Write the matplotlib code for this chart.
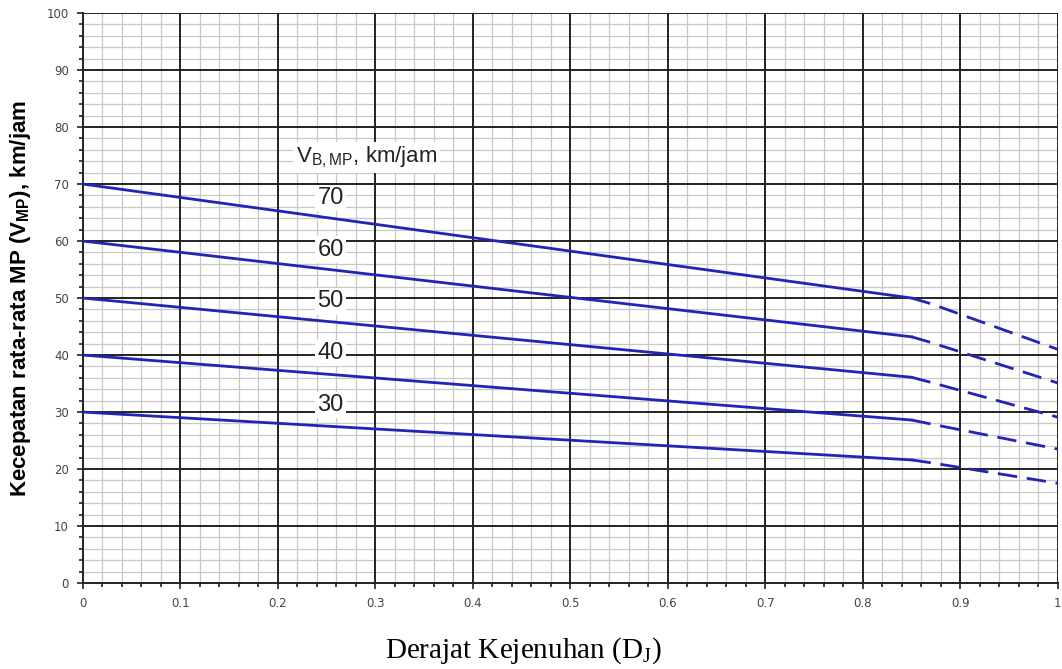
import numpy as np
from matplotlib import pyplot as plt
from matplotlib.ticker import FixedLocator

# base free-flow speeds (km/jam) and where each curve goes
speeds = [70, 60, 50, 40, 30]
x_solid = [0, 0.85]
x_dash = [0.85, 0.87, 1.0]
y_solid = [[70, 50], [60, 43.2], [50, 36.1], [40, 28.6], [30, 21.6]]
y_dash = [[50, 49.0, 41.0], [43.2, 42.2, 35.1], [36.1, 35.2, 29.1],
          [28.6, 27.9, 23.5], [21.6, 21.1, 17.5]]
label_x = 0.254
label_y = [67.5, 58.5, 49.4, 40.3, 31.3]

xticks = np.round(np.arange(0, 1.01, 0.1), 2)
xticklabels = ["0", "0.1", "0.2", "0.3", "0.4", "0.5", "0.6", "0.7", "0.8", "0.9", "1"]
yticks = np.arange(0, 101, 10)
xminor = [v for v in np.round(np.arange(0, 1.001, 0.02), 2) if round(v * 50) % 5 != 0]
yminor = [v for v in range(0, 101, 2) if v % 10 != 0]

fig = plt.figure(figsize=(10.62, 6.69), dpi=100)
ax = fig.add_axes([0.078, 0.1285, 0.918, 0.852])

# grid drawn by hand so the black lines sit on top of the grey ones
for v in xminor:
    ax.axvline(v, color="#c8c8c8", lw=0.9, zorder=0)
for v in yminor:
    ax.axhline(v, color="#c8c8c8", lw=0.9, zorder=0)
for v in xticks[1:]:
    ax.axvline(v, color="#222222", lw=1.4, zorder=1)
for v in yticks[1:]:
    ax.axhline(v, color="#222222", lw=1.4, zorder=1)

blue = "#2323b8"
for i in range(len(speeds)):
    ax.plot(x_solid, y_solid[i], color=blue, lw=2, zorder=3)
    ax.plot(x_dash, y_dash[i], color=blue, lw=2, dashes=(7, 3.5), zorder=3)
    ax.text(label_x, label_y[i], str(speeds[i]), fontsize=17, ha="center", va="center",
            family="Liberation Sans", color="#222222", zorder=4,
            bbox=dict(facecolor="white", edgecolor="none", pad=1.5))

ax.text(0.291, 74.7, r"V$_{\mathregular{B,MP}}$, km/jam", fontsize=16, ha="center", va="center",
        family="Liberation Sans", color="#222222", zorder=4,
        bbox=dict(facecolor="white", edgecolor="none", pad=2))

ax.set_xlim(0, 1)
ax.set_ylim(0, 100)
ax.set_xticks(xticks)
ax.set_xticklabels(xticklabels)
ax.set_yticks(yticks)
ax.xaxis.set_minor_locator(FixedLocator(xminor))
ax.yaxis.set_minor_locator(FixedLocator(yminor))
ax.tick_params(which="both", direction="out", color="#222222", labelsize=8.5,
               labelcolor="#444444", pad=6)
ax.tick_params(which="major", length=4, width=1.2)
ax.tick_params(which="minor", length=3, width=1.2)
for s in ax.spines.values():
    s.set_visible(False)
ax.spines["left"].set_visible(True)
ax.spines["bottom"].set_visible(True)
ax.spines["left"].set_color("#222222")
ax.spines["bottom"].set_color("#222222")
ax.spines["left"].set_linewidth(1.4)
ax.spines["bottom"].set_linewidth(1.4)

ax.set_ylabel(r"Kecepatan rata-rata MP (V$_{\mathregular{MP}}$), km/jam", fontsize=16,
              fontweight="bold", family="Liberation Sans", labelpad=10)
fig.text(0.4925, 0.027, r"Derajat Kejenuhan (D$_{\mathregular{J}}$)", fontsize=21,
         family="Liberation Serif", ha="center", va="center")

plt.savefig("out.png", dpi=100)
